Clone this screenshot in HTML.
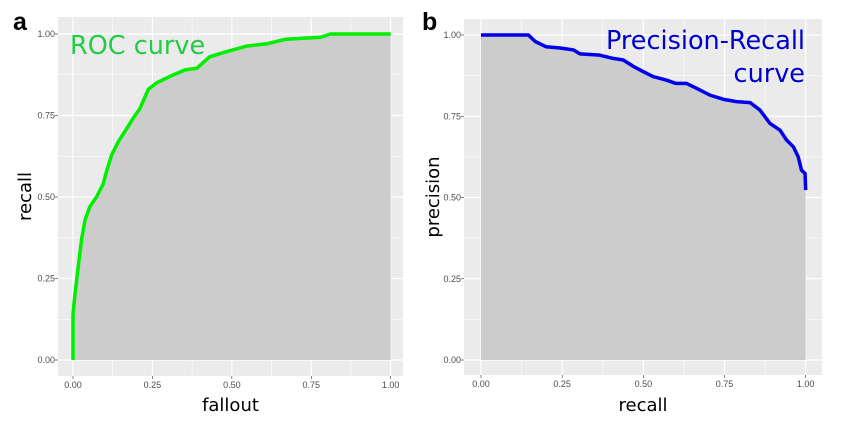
<!DOCTYPE html>
<html><head><meta charset="utf-8">
<style>
body{margin:0;background:#fff;}
svg{display:block;font-family:"Liberation Sans",sans-serif;}
</style></head>
<body>
<svg id="chart" width="846" height="422"></svg>
<script>
const rocFallout=[0,0,0.006,0.017,0.027,0.038,0.053,0.074,0.095,0.106,0.122,0.143,0.169,0.195,0.21,0.237,0.263,0.305,0.353,0.39,0.43,0.48,0.547,0.61,0.67,0.78,0.81,1];
const rocRecall=[0,0.14,0.2,0.29,0.37,0.43,0.47,0.5,0.54,0.58,0.63,0.67,0.71,0.75,0.77,0.83,0.85,0.87,0.89,0.895,0.93,0.945,0.963,0.97,0.984,0.99,1,1];
const prRecall=[0,0.146,0.167,0.2,0.244,0.285,0.305,0.366,0.407,0.438,0.47,0.5,0.53,0.572,0.6,0.633,0.664,0.705,0.747,0.787,0.829,0.859,0.89,0.921,0.941,0.962,0.977,0.987,0.998,1];
const prPrecision=[1,1,0.98,0.964,0.96,0.954,0.942,0.938,0.928,0.923,0.903,0.887,0.872,0.861,0.851,0.851,0.836,0.815,0.802,0.795,0.792,0.769,0.728,0.707,0.677,0.656,0.625,0.584,0.574,0.523];
const tickValues=[0,0.25,0.5,0.75,1];
const tickLabels=["0.00","0.25","0.50","0.75","1.00"];

const NS="http://www.w3.org/2000/svg";
const svg=document.getElementById('chart');
function mk(tag,attrs,parent,text){const e=document.createElementNS(NS,tag);for(const k in attrs)e.setAttribute(k,attrs[k]);if(text!==undefined)e.textContent=text;(parent||svg).appendChild(e);return e;}
const DV='"DejaVu Sans",sans-serif';

function panel(cfg){
  const g=mk('g',{});
  
  
  const sx=v=>cfg.x0+(cfg.x1-cfg.x0)*v;
  const sy=v=>cfg.y0+(cfg.y1-cfg.y0)*v;
  const bg=mk('rect',{x:cfg.bx0,y:cfg.by0,width:cfg.bx1-cfg.bx0,height:cfg.by1-cfg.by0,fill:'#ebebeb'},g);
  
  
  for(let i=0;i<4;i++){const m=(tickValues[i]+tickValues[i+1])/2;
    mk('line',{x1:sx(m),x2:sx(m),y1:cfg.by0,y2:cfg.by1,stroke:'#fff','stroke-width':0.6},g);
    mk('line',{y1:sy(m),y2:sy(m),x1:cfg.bx0,x2:cfg.bx1,stroke:'#fff','stroke-width':0.6},g);}
  tickValues.forEach((t,i)=>{
    mk('line',{x1:sx(t),x2:sx(t),y1:cfg.by0,y2:cfg.by1,stroke:'#fff','stroke-width':1.2},g);
    mk('line',{y1:sy(t),y2:sy(t),x1:cfg.bx0,x2:cfg.bx1,stroke:'#fff','stroke-width':1.2},g);
    mk('line',{x1:sx(t),x2:sx(t),y1:cfg.by1,y2:cfg.by1+3,stroke:'#333','stroke-width':0.6},g);
    mk('line',{y1:sy(t),y2:sy(t),x1:cfg.bx0-3,x2:cfg.bx0,stroke:'#333','stroke-width':0.6},g);
    const xl=mk('text',{x:sx(t),y:cfg.by1+12,'font-size':9,fill:'#4d4d4d','text-anchor':'middle'},g,tickLabels[i]);
    
    
    const yl=mk('text',{x:cfg.bx0-3,y:sy(t)+3,'font-size':9,fill:'#4d4d4d','text-anchor':'end'},g,tickLabels[i]);
    
    
  });
  const xs=cfg.xs, ys=cfg.ys;
  let d='M'+sx(xs[0])+','+sy(0);
  for(let i=0;i<xs.length;i++)d+=' L'+sx(xs[i])+','+sy(ys[i]);
  d+=' L'+sx(xs[xs.length-1])+','+sy(0)+'Z';
  const area=mk('path',{d:d,fill:'#cccccc'},g);
  
  
  const pts=xs.map((v,i)=>sx(v)+','+sy(ys[i])).join(' ');
  const line=mk('polyline',{points:pts,fill:'none',stroke:cfg.color,'stroke-width':3.5,'stroke-linejoin':'round'},g);
  
  
  const xt=mk('text',{x:(cfg.bx0+cfg.bx1)/2,y:411,'font-size':18,fill:'#000','text-anchor':'middle','font-family':DV},g,cfg.xTitle);
  
  
  const yc=(cfg.by0+cfg.by1)/2;
  const yt=mk('text',{x:cfg.ytx,y:yc,'font-size':18,fill:'#000','text-anchor':'middle','font-family':DV,transform:'rotate(-90 '+cfg.ytx+' '+yc+')'},g,cfg.yTitle);
  
  
  const pl=mk('text',{x:cfg.lx,y:30,'font-size':25,'font-weight':'bold',fill:'#000'},g,cfg.letter);
  
  
  return g;
}

panel({name:'roc-panel',x0:73,x1:390.7,y0:360,y1:34,bx0:58,bx1:403,by0:17,by1:376,
  xs:rocFallout,ys:rocRecall,color:'#00ee00',lineName:'roc-curve-line',xTitle:'fallout',yTitle:'recall',ytx:31,lx:13,letter:'a'});
panel({name:'pr-panel',x0:481,x1:805.7,y0:360,y1:35,bx0:464,bx1:822,by0:19,by1:375,
  xs:prRecall,ys:prPrecision,color:'#0000ee',lineName:'pr-curve-line',xTitle:'recall',yTitle:'precision',ytx:439,lx:422,letter:'b'});

const t1=mk('text',{x:70,y:54,'font-size':25.5,fill:'#22cc44','font-family':DV},svg,'ROC curve');


const t2=mk('text',{x:805,y:49,'font-size':25.5,fill:'#0000cc','text-anchor':'end','font-family':DV},svg,'Precision-Recall');


const t3=mk('text',{x:805,y:82,'font-size':25.5,fill:'#0000cc','text-anchor':'end','font-family':DV},svg,'curve');


</script>
</body></html>
